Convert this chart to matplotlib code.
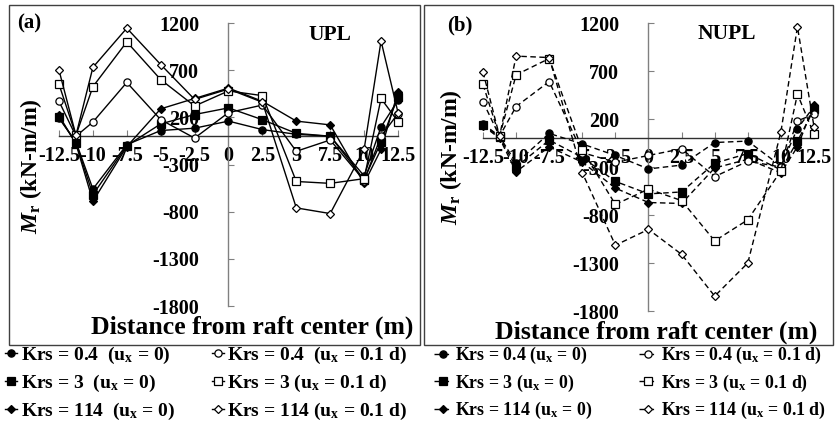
import matplotlib
matplotlib.use('Agg')
import matplotlib.pyplot as plt
from matplotlib.patches import Rectangle

plt.rcParams['font.family'] = ['Liberation Serif', 'DejaVu Serif']
plt.rcParams['font.weight'] = 'bold'
plt.rcParams['axes.unicode_minus'] = False
plt.rcParams['mathtext.fontset'] = 'custom'
plt.rcParams['mathtext.rm'] = 'Liberation Serif:bold'
plt.rcParams['mathtext.it'] = 'Liberation Serif:italic:bold'
plt.rcParams['mathtext.bf'] = 'Liberation Serif:bold'

# ---------------- data ----------------
distance = [-12.5, -11.25, -10, -7.5, -5, -2.5, 0, 2.5, 5, 7.5, 10, 11.25, 12.5]
x_ticks = [-12.5, -10, -7.5, -5, -2.5, 0, 2.5, 5, 7.5, 10, 12.5]
x_tick_labels = ["-12.5", "-10", "-7.5", "-5", "-2.5", "0", "2.5", "5", "7.5", "10", "12.5"]
y_ticks = [-1800, -1300, -800, -300, 200, 700, 1200]

# (a) UPL
upl_k04_0 = [190, -60, -560, -90, 60, 85, 160, 70, 20, 0, -420, 100, 380]
upl_k3_0 = [200, -70, -620, -100, 130, 230, 300, 175, 30, 0, -460, -60, 420]
upl_k114_0 = [220, -80, -690, -110, 290, 400, 510, 370, 160, 120, -500, -140, 470]
upl_k04_1 = [370, 0, 150, 570, 175, -20, 250, 330, -160, -40, -470, 0, 240]
upl_k3_1 = [550, 10, 525, 1000, 600, 320, 480, 430, -480, -500, -450, 400, 155]
upl_k114_1 = [700, 10, 730, 1145, 760, 390, 500, 360, -760, -820, -140, 1010, 250]

# (b) NUPL
nupl_k04_0 = [150, 20, -260, 50, -60, -180, -320, -280, -45, -30, -290, 100, 330]
nupl_k3_0 = [140, 10, -300, -20, -200, -450, -580, -560, -260, -160, -330, -30, 300]
nupl_k114_0 = [130, 0, -350, -90, -250, -520, -670, -680, -310, -220, -360, -90, 350]
nupl_k04_1 = [380, 20, 330, 590, -150, -250, -180, -110, -400, -240, -300, 180, 250]
nupl_k3_1 = [560, 20, 660, 830, -125, -690, -530, -650, -1070, -850, -340, 460, 40]
nupl_k114_1 = [690, 20, 855, 840, -360, -1115, -950, -1210, -1645, -1300, 65, 1160, 120]

labels_a = [r"Krs = 0.4  (u$_\mathbf{x}$ = 0)", r"Krs = 3  (u$_\mathbf{x}$ = 0)",
            r"Krs = 114  (u$_\mathbf{x}$ = 0)", r"Krs = 0.4  (u$_\mathbf{x}$ = 0.1 d)",
            r"Krs = 3 (u$_\mathbf{x}$ = 0.1 d)", r"Krs = 114 (u$_\mathbf{x}$ = 0.1 d)"]
labels_b = [r"Krs = 0.4 (u$_\mathbf{x}$ = 0)", r"Krs = 3 (u$_\mathbf{x}$ = 0)",
            r"Krs = 114 (u$_\mathbf{x}$ = 0)", r"Krs = 0.4 (u$_\mathbf{x}$ = 0.1 d)",
            r"Krs = 3 (u$_\mathbf{x}$ = 0.1 d)", r"Krs = 114 (u$_\mathbf{x}$ = 0.1 d)"]

W, H = 837, 428
fig = plt.figure(figsize=(W / 100, H / 100), dpi=100)


def frac(x0, y0, x1, y1):
    return [x0 / W, 1 - y1 / H, (x1 - x0) / W, (y1 - y0) / H]


# panel borders
for (x0, y0, x1, y1) in [(9, 5, 420, 345), (424, 5, 833, 345)]:
    fig.add_artist(Rectangle((x0 / W, 1 - y1 / H), (x1 - x0) / W, (y1 - y0) / H,
                             transform=fig.transFigure, fill=False,
                             edgecolor='#404040', lw=1.0))

markers = ['o', 's', 'D', 'o', 's', 'D']
msizes = [5.2, 5.2, 4.4, 5.2, 5.2, 4.4]
faces = ['black', 'black', 'black', 'white', 'white', 'white']


def setup(ax):
    ax.set_xlim(-12.5, 12.5)
    ax.set_ylim(-1800, 1200)
    ax.patch.set_alpha(0)
    for s in ['top', 'right']:
        ax.spines[s].set_visible(False)
    ax.spines['left'].set_position(('data', 0))
    ax.spines['bottom'].set_position(('data', 0))
    ax.spines['left'].set_color('#808080')
    ax.spines['bottom'].set_color('#303030')
    ax.spines['left'].set_linewidth(1.0)
    ax.spines['bottom'].set_linewidth(1.0)
    ax.set_xticks(x_ticks)
    ax.set_xticklabels(x_tick_labels)
    ax.set_yticks(y_ticks)
    ax.tick_params(axis='x', direction='in', length=4, color='#808080', pad=7, labelsize=14.5)
    ax.tick_params(axis='y', direction='in', length=4, color='#808080', pad=21, labelsize=14.5)
    for t in ax.get_xticklabels() + ax.get_yticklabels():
        t.set_fontweight('bold')


def draw(ax, series, ls, labels, leg_anchor, colsp, fsize, hlen):
    handles = []
    for i, ys in enumerate(series):
        h, = ax.plot(distance, ys, color='black', lw=1.0, linestyle=ls,
                     marker=markers[i], markersize=msizes[i],
                     markerfacecolor=faces[i], markeredgecolor='black',
                     markeredgewidth=0.9, clip_on=False, zorder=3)
        handles.append(h)
    ax.legend(handles, labels, ncol=2, frameon=False, loc='upper left',
              bbox_to_anchor=leg_anchor, bbox_transform=fig.transFigure,
              handlelength=hlen, handletextpad=0.2,
              columnspacing=colsp, labelspacing=0.35, borderaxespad=0,
              borderpad=0, prop={'weight': 'bold', 'size': fsize})


ax_a = fig.add_axes(frac(59, 23, 398, 306))
setup(ax_a)
draw(ax_a, [upl_k04_0, upl_k3_0, upl_k114_0, upl_k04_1, upl_k3_1, upl_k114_1],
     '-', labels_a, (5 / W, 1 - 345 / H), 1.9, 14, 0.6)

ax_b = fig.add_axes(frac(483, 23, 814, 311))
setup(ax_b)
draw(ax_b, [nupl_k04_0, nupl_k3_0, nupl_k114_0, nupl_k04_1, nupl_k3_1, nupl_k114_1],
     (0, (4, 2.5)), labels_b, (434 / W, 1 - 345 / H), 2.6, 12.9, 1.0)

# axis labels and annotations
ylab = r"$M_\mathrm{r}$ (kN-m/m)"
fig.text(31 / W, 1 - 166 / H, ylab, rotation=90, ha='center', va='center',
         fontsize=17, fontweight='bold')
fig.text(451 / W, 1 - 157 / H, ylab, rotation=90, ha='center', va='center',
         fontsize=17, fontweight='bold')
fig.text(252 / W, 1 - 327 / H, "Distance from raft center (m)", ha='center',
         va='center', fontsize=18.5, fontweight='bold')
fig.text(656 / W, 1 - 332 / H, "Distance from raft center (m)", ha='center',
         va='center', fontsize=18.5, fontweight='bold')
fig.text(17 / W, 1 - 23 / H, "(a)", ha='left', va='center', fontsize=15, fontweight='bold')
fig.text(447 / W, 1 - 25 / H, "(b)", ha='left', va='center', fontsize=15, fontweight='bold')
fig.text(330 / W, 1 - 35 / H, "UPL", ha='center', va='center', fontsize=15.5, fontweight='bold')
fig.text(727 / W, 1 - 34 / H, "NUPL", ha='center', va='center', fontsize=15.5, fontweight='bold')

fig.savefig('out.png', dpi=100)
